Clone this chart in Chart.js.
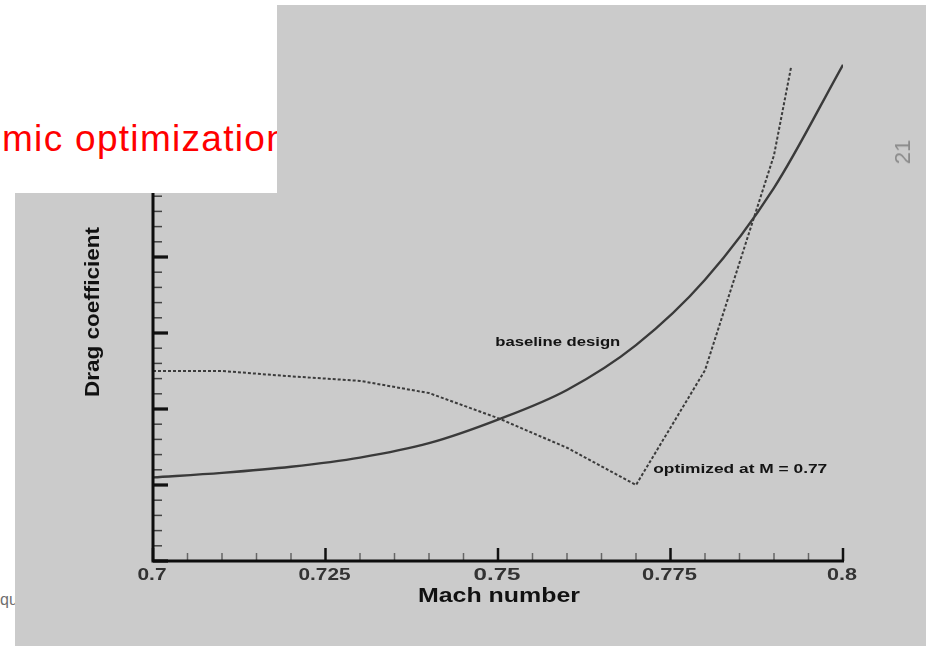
<!DOCTYPE html>
<html>
<head>
<meta charset="utf-8">
<script src="https://cdn.jsdelivr.net/npm/chart.js@4/dist/chart.umd.min.js"></script>
<style>
  html, body { margin: 0; padding: 0; background: #ffffff; }
  body { position: relative; width: 926px; height: 646px; overflow: hidden; }
  #footer { position: absolute; left: 0; top: 590px; font: 16px "Liberation Sans", Arial, sans-serif; color: #707070; line-height: 20px; }
  #sheet { position: absolute; left: 15px; top: 5px; width: 911px; height: 641px; background: #cbcbcb; }
  #plot { position: absolute; left: 0; top: 0; filter: blur(0.6px); }
  #slideNo { position: absolute; left: 903px; top: 152px; transform: translate(-50%, -50%) rotate(-90deg); font: 22px "Liberation Sans", Arial, sans-serif; color: #8a8a8a; line-height: 22px; white-space: nowrap; }
  #titleBox { position: absolute; left: 0; top: 0; width: 277px; height: 193px; background: #ffffff; overflow: hidden; }
  #titleBox span { position: absolute; left: 2px; top: 119px; font: 37px "Liberation Sans", Arial, sans-serif; letter-spacing: 1.3px; line-height: 40px; color: #ff0000; white-space: nowrap; }
</style>
</head>
<body>
<div id="footer">qu</div>
<div id="sheet"></div>
<canvas id="plot" width="926" height="646"></canvas>
<div id="slideNo">21</div>
<div id="titleBox"><span>mic optimization</span></div>
<script>
// Drag coefficient (arbitrary units) against Mach number
const machNumbers   = [0.70, 0.71, 0.72, 0.73, 0.74, 0.75, 0.76, 0.77, 0.78, 0.79, 0.80];
const baselineDrag  = [1.10, 1.16, 1.24, 1.36, 1.55, 1.86, 2.25, 2.84, 3.70, 4.91, 6.53];

const optimizedMach = [0.70, 0.71, 0.72, 0.73, 0.74, 0.75, 0.76, 0.77, 0.78, 0.79, 0.7925];
const optimizedDrag = [2.50, 2.50, 2.43, 2.37, 2.21, 1.88, 1.49, 1.00, 2.51, 5.34, 6.51];

const machTicks      = [0.7, 0.725, 0.75, 0.775, 0.8];
const machTickLabels = ['0.7', '0.725', '0.75', '0.775', '0.8'];
const dragMajorTicks = [0, 1, 2, 3, 4, 5, 6, 7];

const toPoints = (xs, ys) => xs.map((v, i) => ({ x: v, y: ys[i] }));

// Draw text squeezed or stretched to a given width
function fitText(ctx, text, cx, cy, font, width, align) {
  ctx.save();
  ctx.font = font;
  const w = ctx.measureText(text).width;
  const s = width / w;
  ctx.translate(cx, cy);
  ctx.scale(s, 1);
  ctx.textAlign = align || 'center';
  ctx.textBaseline = 'middle';
  ctx.fillText(text, 0, 0);
  ctx.restore();
}

const framePlugin = {
  id: 'tecplotFrame',
  afterDatasetsDraw(chart) {
    const { ctx, chartArea: a, scales: { x, y } } = chart;
    ctx.save();
    ctx.lineCap = 'butt';

    // inward ticks on the Mach axis (minor every 0.005)
    for (let i = 0; i <= 20; i++) {
      const px = x.getPixelForValue(0.7 + i * 0.005);
      const major = i % 5 === 0;
      ctx.strokeStyle = major ? '#111' : '#666';
      ctx.lineWidth = major ? 2.5 : 1.5;
      ctx.beginPath();
      ctx.moveTo(px, a.bottom);
      ctx.lineTo(px, a.bottom - (major ? 13 : 8));
      ctx.stroke();
    }
    // inward ticks on the drag axis (minor every 0.2)
    for (let i = 0; i <= 35; i++) {
      const py = y.getPixelForValue(i * 0.2);
      const major = i % 5 === 0;
      ctx.strokeStyle = major ? '#111' : '#444';
      ctx.lineWidth = major ? 2.5 : 1.5;
      ctx.beginPath();
      ctx.moveTo(a.left, py);
      ctx.lineTo(a.left + (major ? 15 : 9), py);
      ctx.stroke();
    }
    dragMajorTicks.forEach(v => {
      const py = y.getPixelForValue(v);
      ctx.strokeStyle = '#111';
      ctx.lineWidth = 3;
      ctx.beginPath();
      ctx.moveTo(a.left, py);
      ctx.lineTo(a.left + 15, py);
      ctx.stroke();
    });

    // axis lines
    ctx.strokeStyle = '#0d0d0d';
    ctx.lineWidth = 3;
    ctx.beginPath();
    ctx.moveTo(a.left, a.top);
    ctx.lineTo(a.left, a.bottom);
    ctx.lineTo(a.right + 1, a.bottom);
    ctx.stroke();

    // tick labels
    ctx.fillStyle = '#333333';
    const labelWidths = [29, 52, 47, 55, 30];
    machTicks.forEach((v, i) => {
      fitText(ctx, machTickLabels[i], x.getPixelForValue(v) - 1, a.bottom + 14,
        'bold 17px "Liberation Sans", Arial, sans-serif', labelWidths[i]);
    });

    // axis titles
    ctx.fillStyle = '#111111';
    fitText(ctx, 'Mach number', (a.left + a.right) / 2 + 1, a.bottom + 35,
      'bold 21px "Liberation Sans", Arial, sans-serif', 162);
    ctx.save();
    ctx.translate(a.left - 60, a.top + 283);
    ctx.rotate(-Math.PI / 2);
    fitText(ctx, 'Drag coefficient', 0, 0,
      'bold 20px "Liberation Sans", Arial, sans-serif', 170);
    ctx.restore();

    // curve labels
    ctx.fillStyle = '#141414';
    fitText(ctx, 'baseline design', x.getPixelForValue(0.7496), y.getPixelForValue(2.87),
      'bold 12.5px "Liberation Sans", Arial, sans-serif', 125, 'left');
    fitText(ctx, 'optimized at M = 0.77', x.getPixelForValue(0.7725), y.getPixelForValue(1.20),
      'bold 12.5px "Liberation Sans", Arial, sans-serif', 174, 'left');

    ctx.restore();
  }
};

new Chart(document.getElementById('plot'), {
  type: 'line',
  data: {
    datasets: [
      {
        label: 'baseline design',
        data: toPoints(machNumbers, baselineDrag),
        borderColor: '#3a3a3a',
        borderWidth: 2.4,
        pointRadius: 0,
        cubicInterpolationMode: 'monotone',
        fill: false
      },
      {
        label: 'optimized at M = 0.77',
        data: toPoints(optimizedMach, optimizedDrag),
        borderColor: '#3c3c3c',
        borderWidth: 2,
        borderDash: [3, 2],
        pointRadius: 0,
        tension: 0,
        fill: false
      }
    ]
  },
  options: {
    responsive: false,
    animation: false,
    devicePixelRatio: 1,
    layout: { padding: { left: 153, right: 83, top: 29, bottom: 85 } },
    plugins: { legend: { display: false }, tooltip: { enabled: false } },
    scales: {
      x: { type: 'linear', min: 0.7, max: 0.8, display: false },
      y: { type: 'linear', min: 0, max: 7, display: false }
    }
  },
  plugins: [framePlugin]
});
</script>
</body>
</html>
